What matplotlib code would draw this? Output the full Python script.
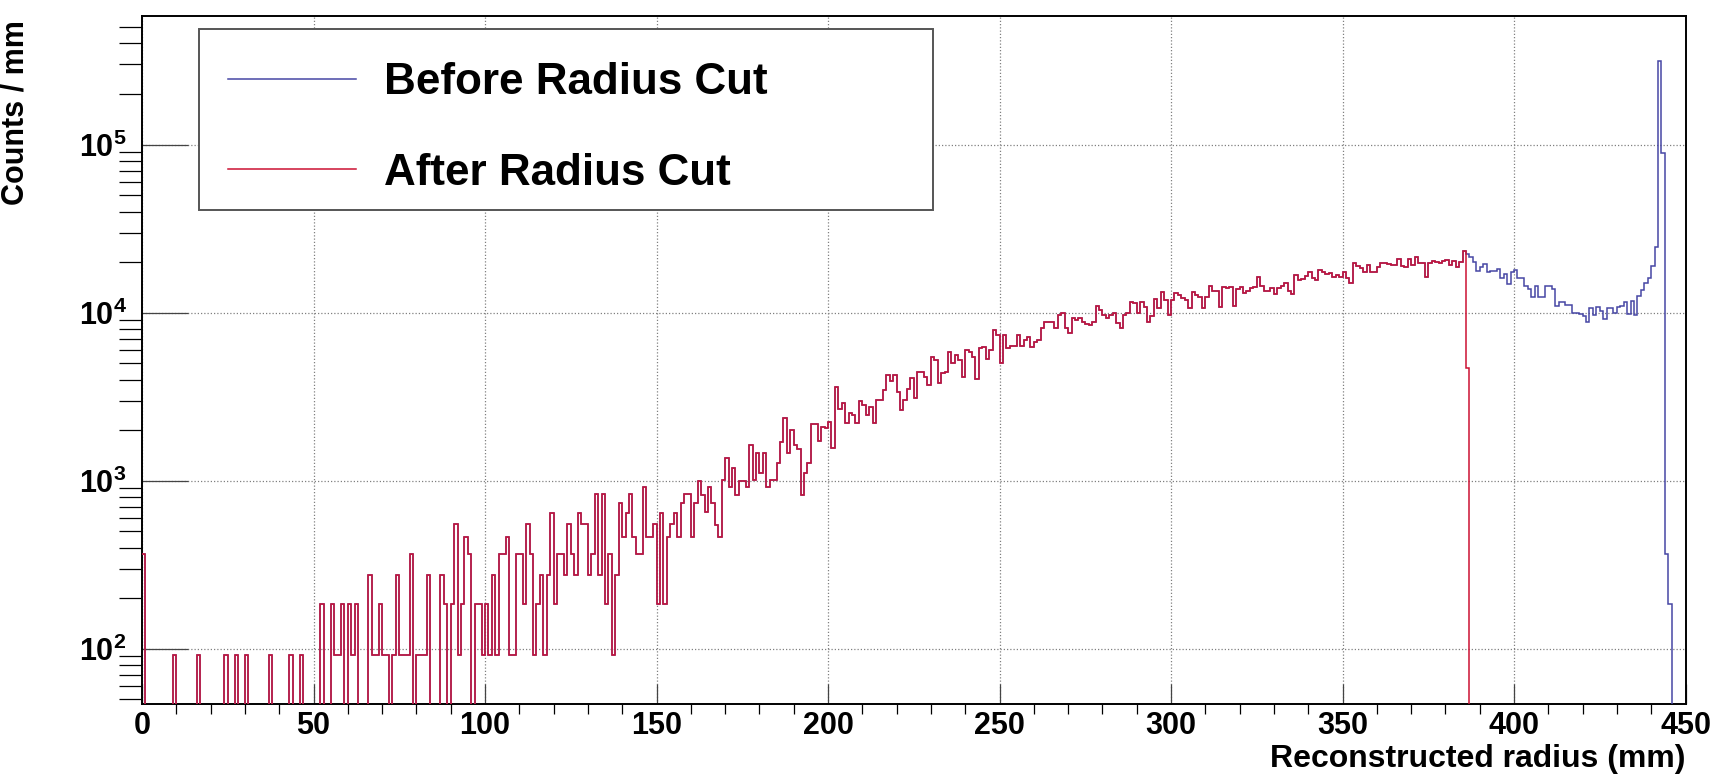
#!/usr/bin/env python

import matplotlib
matplotlib.use('Agg')
import matplotlib.pyplot as plt
import numpy as np
from matplotlib.lines import Line2D
from matplotlib.patches import Rectangle
from matplotlib.ticker import FuncFormatter, LogLocator, MultipleLocator, NullFormatter


# 1 mm bins from 0 to 450 mm
BIN_WIDTH = 1.0
X_MAX = 450

# bins 0-161: raw entries per bin (each entry is worth COUNT_WEIGHT counts/mm)
COUNT_WEIGHT = 92
counts_low = [
    4, 0, 0, 0, 0, 0, 0, 0, 0, 1,              # 0
    0, 0, 0, 0, 0, 0, 1, 0, 0, 0,              # 10
    0, 0, 0, 0, 1, 0, 0, 1, 0, 0,              # 20
    1, 0, 0, 0, 0, 0, 0, 1, 0, 0,              # 30
    0, 0, 0, 1, 0, 0, 1, 0, 0, 0,              # 40
    0, 0, 2, 0, 0, 2, 1, 1, 2, 0,              # 50
    2, 1, 2, 0, 0, 0, 3, 1, 1, 2,              # 60
    1, 1, 0, 1, 3, 1, 1, 1, 4, 0,              # 70
    1, 1, 1, 3, 0, 0, 0, 3, 2, 0,              # 80
    2, 6, 1, 2, 5, 4, 0, 2, 2, 1,              # 90
    2, 1, 3, 1, 4, 4, 5, 1, 1, 4,              # 100
    4, 2, 6, 4, 1, 2, 3, 1, 3, 7,              # 110
    2, 4, 4, 3, 6, 4, 3, 7, 6, 6,              # 120
    3, 4, 9, 3, 9, 2, 4, 1, 3, 8,              # 130
    5, 7, 9, 5, 4, 4, 10, 5, 5, 6,             # 140
    2, 7, 2, 5, 6, 7, 5, 8, 9, 9,              # 150
    5, 8,                                      # 160
]

# bins 162-449: counts / mm before the radius cut
rate_high = [
    1000, 822, 654, 921, 733, 545, 464, 1009,                          # 162
    1359, 921, 1185, 822, 1000, 1000, 921, 1632, 1009, 1457,           # 170
    1107, 1457, 921, 1009, 1009, 1281, 1708, 2350, 1470, 2004,         # 180
    1632, 1538, 822, 1107, 1281, 2175, 2175, 1731, 2095, 2050,         # 190
    2245, 1560, 3600, 2662, 2890, 2196, 2518, 2460, 2196, 2995,        # 200
    2823, 2460, 2756, 2196, 3020, 3020, 3465, 4258, 3936, 4258,        # 210
    3386, 2637, 3020, 3500, 4070, 3090, 4458, 4458, 4160, 3716,        # 220
    5470, 5225, 3827, 4357, 4458, 5860, 5000, 5598, 5225, 4160,        # 230
    5998, 5860, 5470, 4015, 6140, 6225, 5298, 5998, 7890, 7365,        # 240
    5000, 7365, 6140, 6370, 6370, 7360, 6370, 6900, 7190, 6280,        # 250
    6720, 6870, 8070, 8840, 8840, 8840, 8070, 9670, 9900, 8070,        # 260
    7540, 9260, 9060, 9260, 8840, 8570, 8450, 8840, 10970, 10390,      # 270
    9670, 9260, 9670, 9900, 8650, 8070, 9670, 9900, 11610, 11350,      # 280
    9900, 11610, 10840, 8840, 9500, 12010, 10620, 13330, 11900, 9670,  # 290
    11900, 13020, 12740, 12180, 11900, 10620, 13330, 12740, 12460, 10620,  # 300
    12460, 14460, 13490, 13490, 10760, 14130, 14000, 14270, 10970, 13820,  # 310
    14270, 13020, 13490, 14000, 14270, 16240, 14460, 13490, 13370, 14000,  # 320
    13000, 14000, 14460, 15070, 13490, 13000, 16750, 15670, 15800, 16500,  # 330
    17540, 16030, 15670, 17950, 17540, 17000, 17150, 16240, 16750, 16370,  # 340
    17540, 16030, 14970, 19700, 18970, 18540, 17540, 19240, 17540, 17400,  # 350
    18800, 19700, 19700, 19500, 19240, 19240, 20900, 19000, 18800, 20800,  # 360
    19240, 21400, 19870, 19700, 16240, 19700, 20330, 20150, 19700, 20400,  # 370
    20600, 19240, 20400, 18800, 20150, 23400, 22300, 21500, 20100, 17700,  # 380
    18800, 19500, 17540, 17700, 17700, 18300, 16000, 17000, 14760, 17540,  # 390
    18000, 16000, 16000, 14430, 13780, 12350, 14430, 12350, 12350, 14430,  # 400
    14430, 13780, 10970, 11640, 11640, 11120, 11120, 9910, 9910, 9800,     # 410
    9550, 8830, 10620, 9700, 10800, 10300, 9140, 10620, 10700, 9910,       # 420
    10800, 10900, 11640, 9800, 11700, 9700, 12620, 13650, 14950, 16100,    # 430
    19000, 24500, 315000, 89500, 368, 184, 0, 0, 0, 0,                     # 440
]

# after the cut: identical below the cut bin, partial in it, empty above
CUT_BIN = 386
cut_bin_rate = 4700

LABELS = ['Before Radius Cut', 'After Radius Cut']
BLUE = '#4646a4'
RED = '#cc1133'

W, H = 1735, 783


def main():
    plt.rcParams['font.family'] = ['Liberation Sans', 'DejaVu Sans']
    plt.rcParams['font.weight'] = 'bold'
    plt.rcParams['mathtext.fontset'] = 'custom'
    plt.rcParams['mathtext.bf'] = 'Liberation Sans:bold'
    plt.rcParams['mathtext.rm'] = 'Liberation Sans:bold'

    edges = np.arange(0, X_MAX + BIN_WIDTH, BIN_WIDTH)
    before = np.concatenate([np.array(counts_low, float) * COUNT_WEIGHT,
                             np.array(rate_high, float)])
    after = before.copy()
    after[CUT_BIN] = cut_bin_rate
    after[CUT_BIN + 1:] = 0

    fig = plt.figure(figsize=(W / 100, H / 100), dpi=100)
    ax = fig.add_axes([142 / W, 1 - 704 / H, 1543.5 / W, 688.5 / H])
    ax.set_yscale('log')
    ymin, ymax = 46.9, 5.87e5

    # empty bins are drawn down onto the frame, as ROOT does
    floor = ymin / 10
    ax.stairs(np.where(before > 0, before, floor), edges, color=BLUE,
              linewidth=1.1, baseline=None, zorder=3)
    ax.stairs(np.where(after > 0, after, floor), edges, color=RED,
              linewidth=1.1, baseline=None, zorder=4)

    ax.set_xlim(0, X_MAX)
    ax.set_ylim(ymin, ymax)

    ax.xaxis.set_major_locator(MultipleLocator(50))
    ax.xaxis.set_minor_locator(MultipleLocator(10))
    ax.yaxis.set_major_locator(LogLocator(base=10))
    ax.yaxis.set_minor_locator(LogLocator(base=10, subs=np.arange(2, 10)))
    ax.yaxis.set_minor_formatter(NullFormatter())
    ax.yaxis.set_major_formatter(FuncFormatter(
        lambda v, pos: r'$\mathbf{10^{%d}}$' % round(np.log10(v))))

    ax.tick_params(axis='both', direction='in', colors='#444444',
                   labelcolor='black', top=False, right=False)
    ax.tick_params(axis='x', which='major', length=14.4, width=0.9,
                   labelsize=22, pad=5)
    ax.tick_params(axis='x', which='minor', length=7.2, width=0.9)
    ax.tick_params(axis='y', which='major', length=33, width=0.9,
                   labelsize=22, pad=11)
    ax.tick_params(axis='y', which='minor', length=16.6, width=0.9)

    ax.grid(True, which='major', color='#808080', linestyle=(0, (1, 1.6)),
            linewidth=0.9)
    for spine in ax.spines.values():
        spine.set_linewidth(1.4)
        spine.set_color('black')

    ax.set_xlabel('Reconstructed radius (mm)', fontsize=23,
                  fontweight='bold', loc='right')
    ax.xaxis.set_label_coords(1.0, -0.058)
    ax.set_ylabel('Counts / mm', fontsize=22, fontweight='bold', loc='top')
    ax.yaxis.set_label_coords(-0.072, 0.9935)

    # opaque legend box, ROOT TLegend style
    box = Rectangle((199 / W, 1 - 210 / H), 734 / W, 181 / H,
                    transform=fig.transFigure, facecolor='white',
                    edgecolor='#555555', linewidth=1.4, zorder=4.5,
                    clip_on=False)
    ax.add_patch(box)

    handles = [Line2D([], [], color=BLUE, linewidth=1.1),
               Line2D([], [], color=RED, linewidth=1.1)]
    ax.legend(handles, LABELS, loc='upper left',
              bbox_to_anchor=(228 / W, 1 - 62 / H),
              bbox_transform=fig.transFigure, borderaxespad=0, borderpad=0,
              frameon=False, prop={'weight': 'bold', 'size': 31.7},
              handlelength=2.91, handletextpad=0.64, labelspacing=1.13)

    fig.savefig('out.png', dpi=100)


if __name__ == '__main__':
    main()
